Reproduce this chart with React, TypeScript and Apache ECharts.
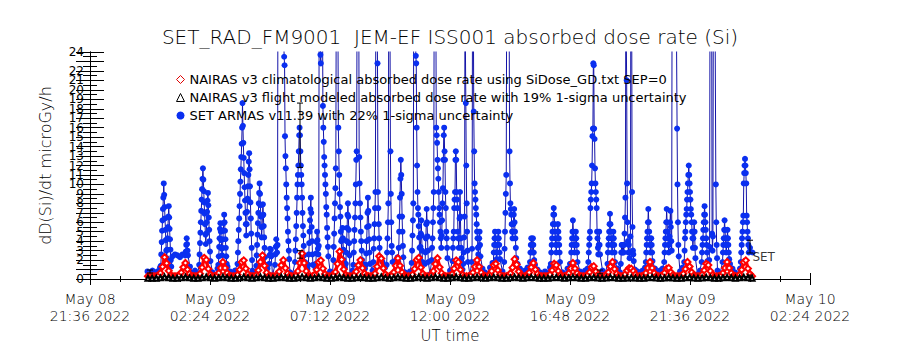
import React, { useEffect, useRef } from "react";
import * as echarts from "echarts";

// ---------- axis / labels ----------
const TITLE = "SET_RAD_FM9001  JEM-EF ISS001 absorbed dose rate (Si)";
const Y_NAME = "dD(Si)/dt microGy/h";
const X_NAME = "UT time";
const xTickLabels = [
  "May 08\n21:36 2022",
  "May 09\n02:24 2022",
  "May 09\n07:12 2022",
  "May 09\n12:00 2022",
  "May 09\n16:48 2022",
  "May 09\n21:36 2022",
  "May 10\n02:24 2022",
];
const X_MIN = 0; // minutes since May 08 21:36
const X_MAX = 1728;
const X_STEP = 288;
const DAY_OFFSET = 144; // May 09 00:00 in minutes since May 08 21:36
const Y_MIN = 0;
const Y_MAX = 24;

const legendNames = [
  "NAIRAS v3 climatological absorbed dose rate using SiDose_GD.txt SEP=0",
  "NAIRAS v3 flight modeled absorbed dose rate with 19% 1-sigma uncertainty",
  "SET ARMAS v11.39 with 22% 1-sigma uncertainty",
];

// ---------- NAIRAS climatological (minutes from May 09 00:00, 5-min cadence) ----------
const nairasClimStart = -5;
const nairasClimStep = 5;
const nairasClim = [
  0.3, 0.3, 0.3, 0.3, 0.3, 0.34, 0.64, 1.3, 2.3, 1.66,
  0.86, 0.4, 0.3, 0.3, 0.3, 0.37, 0.69, 1.25, 1.7, 1.0,
  0.54, 0.32, 0.3, 0.3, 0.3, 0.56, 1.22, 2.24, 2.02, 1.07,
  0.48, 0.3, 0.3, 0.32, 0.63, 1.17, 1.8, 1.17, 0.63, 0.32,
  0.3, 0.3, 0.3, 0.45, 0.97, 1.78, 1.97, 1.1, 0.53, 0.3,
  0.3, 0.3, 0.41, 0.92, 1.8, 2.5, 1.4, 0.67, 0.33, 0.3,
  0.3, 0.3, 0.39, 0.78, 1.46, 2.0, 1.15, 0.59, 0.32, 0.3,
  0.3, 0.35, 0.83, 1.69, 2.7, 1.69, 0.83, 0.35, 0.3, 0.3,
  0.45, 0.97, 1.78, 1.97, 1.1, 0.53, 0.3, 0.3, 0.3, 0.35,
  0.74, 1.6, 2.9, 2.07, 1.03, 0.43, 0.3, 0.3, 0.3, 0.39,
  0.78, 1.46, 2.0, 1.15, 0.59, 0.32, 0.3, 0.3, 0.3, 0.59,
  1.31, 2.41, 2.17, 1.14, 0.49, 0.3, 0.3, 0.34, 0.72, 1.4,
  2.2, 1.4, 0.72, 0.34, 0.3, 0.3, 0.3, 0.48, 1.07, 2.02,
  2.24, 1.22, 0.56, 0.3, 0.3, 0.3, 0.4, 0.83, 1.59, 2.2,
  1.25, 0.62, 0.33, 0.3, 0.3, 0.3, 0.53, 1.1, 1.97, 1.78,
  0.97, 0.45, 0.3, 0.3, 0.3, 0.33, 0.67, 1.29, 2.0, 1.29,
  0.67, 0.33, 0.3, 0.3, 0.42, 0.83, 1.47, 1.62, 0.93, 0.48,
  0.3, 0.3, 0.3, 0.32, 0.61, 1.2, 2.1, 1.52, 0.8, 0.39,
  0.3, 0.3, 0.37, 0.69, 1.25, 1.7, 1.0, 0.54, 0.32, 0.3,
  0.3, 0.3, 0.3, 0.48, 0.93, 1.62, 1.47, 0.83, 0.42, 0.3,
  0.3, 0.32, 0.61, 1.11, 1.7, 1.11, 0.61, 0.32, 0.3, 0.3,
  0.3, 0.4, 0.72, 1.24, 1.36, 0.8, 0.44, 0.3, 0.3, 0.3,
  0.38, 0.72, 1.32, 1.8, 1.05, 0.56, 0.32, 0.3, 0.3, 0.5,
  0.9, 1.15, 1.1, 0.85, 0.5, 0.3, 0.3, 0.3, 0.33, 0.63,
  1.17, 1.8, 1.17, 0.63, 0.33, 0.3, 0.3, 0.38, 0.65, 1.08,
  1.18, 0.72, 0.42, 0.3, 0.3, 0.3, 0.32, 0.56, 1.05, 1.8,
  1.32, 0.72, 0.38, 0.3, 0.3, 0.3, 0.48, 0.93, 1.62, 1.47,
  0.83, 0.42, 0.3, 0.3, 0.3, 0.32, 0.63, 1.17, 1.8, 1.17,
  0.63, 0.32, 0.3, 0.3, 0.45, 0.97, 1.78, 1.97, 1.1, 0.53,
  0.3,
];

// ---------- NAIRAS flight modeled (10-min cadence) ----------
const nairasFlightStart = -5;
const nairasFlightStep = 10;
const nairasFlight = [
  0.08, 0.08, 0.08, 0.12, 0.2, 0.13, 0.08, 0.08, 0.12, 0.18,
  0.12, 0.08, 0.08, 0.13, 0.2, 0.12, 0.08, 0.12, 0.18, 0.12,
  0.08, 0.08, 0.13, 0.2, 0.12, 0.08, 0.12, 0.21, 0.13, 0.08,
  0.08, 0.12, 0.19, 0.13, 0.08, 0.08, 0.13, 0.22, 0.13, 0.08,
  0.12, 0.2, 0.13, 0.08, 0.08, 0.13, 0.23, 0.13, 0.08, 0.08,
  0.12, 0.19, 0.12, 0.08, 0.08, 0.14, 0.22, 0.12, 0.08, 0.12,
  0.2, 0.12, 0.08, 0.08, 0.13, 0.21, 0.12, 0.08, 0.12, 0.2,
  0.13, 0.08, 0.08, 0.12, 0.2, 0.13, 0.08, 0.08, 0.12, 0.19,
  0.12, 0.08, 0.12, 0.18, 0.12, 0.08, 0.08, 0.12, 0.19, 0.13,
  0.08, 0.12, 0.17, 0.12, 0.08, 0.08, 0.08, 0.12, 0.17, 0.12,
  0.08, 0.12, 0.17, 0.12, 0.08, 0.08, 0.12, 0.16, 0.11, 0.08,
  0.11, 0.17, 0.12, 0.08, 0.08, 0.11, 0.14, 0.11, 0.08, 0.08,
  0.12, 0.17, 0.11, 0.08, 0.11, 0.15, 0.11, 0.08, 0.08, 0.12,
  0.17, 0.11, 0.08, 0.11, 0.17, 0.12, 0.08, 0.08, 0.12, 0.17,
  0.12, 0.08, 0.12, 0.19, 0.13, 0.08,
];

// ---------- SET ARMAS: quiet background (6-min cadence) ----------
const armasQuietStart = -6;
const armasQuietStep = 6;
const armasQuiet = [
  0.8, 0.6, 0.9, 0.5, 0.8, 1.2, 1.8, 2.3,
  1.6, 1.1, 2.4, 2.6, 2.5, 2.3, 2.6, 2.5,
  2.5, 1.3, 0.6, 0.9, 0.5, 1.3, 1.9, 2.2,
  1.9, 1.2, 0.7, 0.4, 1.1, 1.8, 2.2, 1.7,
  1.3, 0.8, 0.5, 0.9, 1.2, 1.9, 2.4, 1.7,
  1.0, 0.6, 0.9, 0.5, 1.4, 2.0, 2.5, 1.8,
  1.1, 0.8, 0.4, 0.9, 1.3, 1.9, 2.3, 1.6,
  1.2, 0.7, 0.5, 0.9, 1.4, 2.1, 2.6, 1.8,
  1.1, 0.6, 0.9, 1.3, 1.9, 2.4, 1.7, 1.0,
  0.5, 0.8, 0.6, 1.3, 2.0, 2.6, 1.9, 1.2,
  0.7, 0.4, 0.9, 1.2, 1.8, 2.3, 1.6, 1.1,
  0.8, 0.5, 0.9, 1.4, 2.0, 2.5, 1.8, 1.2,
  0.6, 0.9, 1.3, 1.9, 2.3, 1.7, 1.0, 0.7,
  0.4, 0.8, 1.3, 2.0, 2.4, 1.8, 1.1, 0.6,
  0.9, 0.5, 1.2, 1.9, 2.3, 1.6, 1.2, 0.8,
  0.5, 0.9, 1.3, 1.9, 2.2, 1.7, 1.0, 0.6,
  0.9, 0.4, 1.2, 1.8, 2.2, 1.6, 1.1, 0.7,
  0.5, 1.2, 1.7, 2.0, 1.5, 1.0, 0.8, 0.5,
  0.9, 1.2, 1.8, 2.1, 1.6, 1.1, 0.6, 0.9,
  1.2, 1.6, 1.9, 1.5, 1.0, 0.7, 0.4, 0.8,
  0.6, 1.2, 1.7, 2.0, 1.6, 1.0, 0.7, 0.5,
  1.1, 1.6, 1.9, 1.5, 1.0, 0.8, 0.5, 0.9,
  1.1, 1.5, 1.8, 1.4, 1.0, 0.6, 0.9, 0.5,
  1.2, 1.7, 2.0, 1.5, 1.1, 0.7, 0.4, 1.0,
  1.4, 1.6, 1.3, 1.0, 0.8, 0.5, 0.9, 1.2,
  1.7, 2.0, 1.6, 1.1, 0.6, 0.9, 1.1, 1.5,
  1.7, 1.4, 1.0, 0.7, 0.4, 0.8, 1.2, 1.7,
  2.0, 1.6, 1.1, 0.8, 0.5, 0.9, 1.2, 1.7,
  2.0, 1.5, 1.0, 0.6, 0.9, 0.5, 1.2, 1.7,
  2.0, 1.6, 1.1, 0.7, 0.4, 1.1, 1.8, 2.2,
  1.7, 3.3, 2.8,
];

// ---------- SET ARMAS: bursts [start minute, values at 1-min cadence] (values > 24 are off scale) ----------
const armasBurstStep = 1;
const armasBursts: [number, number[]][] = [
  [26, [1.4, 2.6, 3.9, 5.1, 6.2, 7.4, 8.6, 10.1, 8.9, 7.6, 6.4, 5.2, 4.1, 3.0, 2.2, 3.1, 4.3, 5.5, 6.6, 7.7, 6.5, 5.3, 4.2, 3.1, 2.0, 1.3]],
  [86, [2.9, 3.6, 4.3, 3.7, 3.0, 2.5]],
  [118, [1.5, 2.6, 3.8, 4.9, 6.0, 7.2, 8.4, 9.5, 10.6, 11.7, 10.5, 9.3, 8.1, 6.9, 5.8, 4.7, 3.7, 4.8, 6.0, 7.1, 8.3, 9.1, 7.8, 6.5, 5.2, 4.0, 2.9, 1.9]],
  [164, [1.5, 2.4, 3.4, 4.3, 5.3, 5.9, 5.0, 4.1, 3.2, 2.5, 3.3, 4.2, 5.1, 5.9, 6.8, 6.0, 5.1, 4.2, 3.3, 2.4, 1.6]],
  [210, [1.6, 2.8, 4.0, 5.2, 6.4, 7.7, 9.0, 10.3, 11.6, 12.9, 14.3, 16.0, 18.6, 16.2, 14.4, 12.8, 11.2, 9.7, 8.3, 7.0, 5.8, 4.6, 5.8, 7.1, 8.5, 9.8, 11.0, 12.4, 13.3, 11.6, 9.8, 8.1, 6.4, 4.8, 3.3, 2.0]],
  [255, [1.4, 2.5, 3.6, 4.7, 5.9, 7.0, 8.0, 9.1, 10.1, 9.0, 7.8, 6.6, 5.5, 4.4, 5.5, 6.7, 7.9, 6.8, 5.6, 4.4, 3.3, 2.3, 1.5]],
  [286, [1.6, 2.5, 3.2, 2.6, 3.1, 2.4]],
  [300, [1.5, 2.6, 3.4, 4.2, 3.5, 2.8, 3.6, 31, 34, 38, 42, 45, 47, 44, 40, 36, 33, 30, 28, 27, 26, 25, 23.5, 22.6, 15.1, 13.0, 11.7, 10.0, 8.6, 7.5, 6.4, 5.0, 4.0, 3.0, 2.1]],
  [348, [1.8, 3.0, 4.2, 5.6, 7.0, 8.6, 10.0, 11.0, 12.0, 13.5, 15.2, 16.0, 15.2, 13.5, 12.0, 11.0, 10.0, 8.6, 7.0, 5.6, 4.6, 3.5, 2.5, 1.6]],
  [380, [1.5, 2.6, 3.8, 5.0, 6.2, 7.4, 8.6, 7.0, 5.5, 4.0, 2.6, 1.5]],
  [398, [1.6, 2.7, 3.9, 5.0, 4.1, 3.2, 2.6, 3.5, 30, 34, 28, 23.7, 22.8, 30, 36, 32, 28, 18.3, 16.0, 14.5, 12.9, 12.0, 11.0, 10.0, 9.0, 7.6, 6.8, 5.4, 4.4, 3.4, 2.4]],
  [440, [2.0, 3.4, 4.8, 6.4, 8.0, 9.6, 11.7, 30, 36, 40, 34, 28, 16.0, 13.5, 11.0, 9.0, 7.6, 6.6, 5.0, 4.0, 3.0, 4.2, 5.4, 4.3, 3.1, 2.0]],
  [470, [1.6, 2.8, 4.0, 5.4, 6.8, 8.0, 6.6, 5.2, 3.8, 2.5]],
  [488, [1.5, 2.8, 4.0, 5.2, 6.5, 8.0, 10.0, 12.6, 13.5, 30, 35, 40, 35, 30, 12.9, 10.1, 8.0, 6.5, 5.0, 4.0, 3.0, 2.0]],
  [518, [1.5, 2.7, 4.0, 5.5, 7.0, 8.6, 7.2, 5.6, 4.2, 2.8, 1.6]],
  [536, [1.8, 3.2, 4.3, 5.8, 7.5, 9.2, 30, 36, 32, 28, 22.8, 9.2, 7.5, 5.8, 4.3, 3.3, 2.2]],
  [568, [1.5, 2.8, 4.3, 6.0, 8.0, 30, 35, 32, 27, 13.5, 9.0, 6.0, 3.5, 2.8, 1.8]],
  [596, [1.8, 3.3, 5.0, 6.6, 8.6, 10.6, 12.6, 11.0, 9.0, 6.6, 5.0, 3.5, 2.3]],
  [628, [1.7, 3.0, 4.6, 6.2, 8.0, 30, 35, 40, 36, 30, 23.6, 22.8, 16.0, 12.0, 9.2, 7.5, 6.8, 5.6, 4.4, 3.3, 2.2, 3.4, 4.8, 6.2, 4.6, 3.0, 1.8]],
  [660, [1.6, 2.8, 4.3, 5.8, 7.4, 6.0, 4.5, 3.0, 1.8]],
  [676, [2.0, 3.3, 4.3, 6.0, 7.5, 9.2, 30, 36, 40, 36, 30, 16.0, 15.2, 14.4, 12.6, 11.7, 10.6, 9.2, 7.5, 6.8, 6.0, 5.0, 4.3, 3.3, 4.6, 6.2, 8.0, 9.6, 12.6, 15.2, 16.0, 13.5, 12.6, 9.2, 7.5, 5.0, 4.3, 3.3, 2.2]],
  [726, [1.9, 3.3, 4.3, 5.0, 7.5, 8.4, 9.2, 12.6, 13.5, 12.6, 9.2, 8.4, 7.5, 5.0, 4.3, 3.3, 4.3, 6.4, 9.2, 6.6, 4.3, 3.3, 2.2]],
  [752, [1.6, 2.8, 4.4, 6.6, 30, 30, 18.6, 12.0, 8.0, 5.0, 3.0, 1.8]],
  [772, [1.8, 3.2, 30, 34, 30, 17.7, 13.5, 10.1, 9.2, 8.4, 7.5, 6.8, 5.8, 5.0, 4.3, 3.3, 2.6, 3.4, 4.3, 5.0, 3.6, 2.4]],
  [824, [1.6, 2.8, 3.6, 4.3, 5.0, 4.3, 3.6, 2.8, 2.1, 2.8, 3.6, 4.3, 5.0, 4.3, 3.6, 2.8, 2.1]],
  [850, [1.8, 3.2, 5.0, 7.0, 9.0, 11.0, 30, 34, 38, 40, 36, 32, 28, 13.5, 10.1, 8.0, 7.4, 6.8, 5.8, 5.0, 4.3, 5.0, 5.8, 6.8, 7.4, 6.0, 5.0, 4.3, 3.3, 2.2]],
  [912, [1.8, 2.8, 3.6, 4.3, 3.6, 2.8, 3.6, 4.3, 3.6, 2.8, 2.0]],
  [962, [1.6, 2.8, 3.6, 4.3, 5.0, 5.8, 6.8, 7.5, 6.8, 5.8, 5.0, 4.3, 3.6, 2.8, 3.6, 4.3, 5.0, 5.8, 5.0, 4.3, 3.6, 2.8, 1.8]],
  [1010, [1.6, 2.8, 3.6, 4.3, 5.0, 6.2, 5.0, 4.3, 3.6, 2.8, 3.6, 4.3, 5.0, 4.3, 3.6, 2.8, 1.8]],
  [1052, [1.8, 2.8, 3.6, 4.3, 5.0, 7.5, 8.4, 9.2, 10.1, 12.0, 15.1, 15.9, 22.8, 22.6, 15.9, 14.8, 11.7, 10.1, 9.2, 8.4, 7.5, 5.0, 4.3, 3.3, 2.6, 3.6, 5.0, 3.6, 2.6]],
  [1098, [1.6, 2.8, 3.6, 4.3, 5.0, 5.8, 6.9, 5.8, 5.0, 4.3, 3.6, 2.8, 3.6, 4.3, 5.0, 4.3, 3.6, 2.8, 1.8]],
  [1130, [1.6, 2.8, 3.6, 2.8, 3.6, 2.8, 3.6, 2.8, 3.6, 4.8, 6.5, 8.6, 30, 30, 21.0, 10.1, 6.0, 4.0, 2.8, 3.6, 2.8, 2.2, 2.8, 4.5, 30, 30, 30, 9.2, 5.5, 3.0, 2.6, 1.9]],
  [1190, [1.8, 2.8, 3.6, 4.3, 5.0, 6.0, 7.4, 6.0, 5.0, 4.3, 3.6, 2.8, 3.6, 4.3, 3.6, 2.8, 1.9]],
  [1234, [1.8, 2.8, 3.6, 4.3, 5.0, 6.0, 7.4, 6.0, 5.0, 4.3, 3.6, 2.8, 3.6, 4.5, 6.0, 7.2, 5.5, 4.0, 3.0, 30, 30, 30, 30, 30, 30, 30, 30, 30, 30, 30, 30, 15.9, 10.0, 6.0, 3.6, 2.4]],
  [1282, [1.8, 3.0, 4.3, 5.0, 6.0, 6.8, 7.4, 8.4, 9.2, 10.1, 11.0, 12.0, 11.0, 10.1, 9.2, 8.4, 7.4, 6.8, 6.0, 5.0, 4.3, 3.3, 4.3, 5.0, 6.0, 5.0, 3.3, 2.2]],
  [1324, [1.8, 2.8, 3.6, 4.3, 5.2, 6.0, 6.8, 7.7, 6.8, 6.0, 5.2, 4.3, 3.6, 2.8, 1.9]],
  [1342, [2.0, 3.4, 30, 30, 30, 30, 30, 4.8, 3.0, 4.5, 30, 30, 30, 30, 30, 30, 10.0, 6.0, 3.6, 2.2]],
  [1374, [1.8, 2.8, 3.6, 4.3, 5.2, 6.2, 5.2, 4.3, 3.6, 2.8, 3.6, 4.3, 5.2, 4.3, 3.6, 2.8, 2.1, 1.5]],
  [1418, [1.8, 2.8, 3.6, 4.3, 5.0, 6.0, 6.7, 10.1, 11.2, 12.0, 12.7, 12.0, 11.2, 10.1, 6.7, 6.0, 5.0, 4.3, 3.6, 2.8]],
];

// ---------- error bars [minute, low, high] ----------
const errorBars: [number, number, number][] = [
  [0, 0.63, 0.95],
  [360, 11.8, 18.6],
  [360, 2.2, 3.0],
  [720, 0.2, 0.42],
  [1080, 0.55, 0.95],
  [1440, 2.75, 4.1],
  [1440, 0.2, 0.4],
];
const setLabel = { text: "SET", minute: 1441, value: 2.3 };

// ---------- build series data ----------
function seriesFromCadence(start: number, step: number, vals: number[]) {
  return vals.map((v, i) => [start + i * step + DAY_OFFSET, v]);
}

function buildArmas() {
  const windows = armasBursts.map(([s, v]) => [s, s + (v.length - 1) * armasBurstStep]);
  const pts: [number, number][] = [];
  armasQuiet.forEach((v, i) => {
    const t = armasQuietStart + i * armasQuietStep;
    if (!windows.some(([a, b]) => t >= a - 0.5 && t <= b + 0.5)) pts.push([t, v]);
  });
  armasBursts.forEach(([s, vals]) => vals.forEach((v, i) => pts.push([s + i * armasBurstStep, v])));
  pts.sort((a, b) => a[0] - b[0]);
  return pts.map(([t, v]) => [t + DAY_OFFSET, v]);
}

const FONT = "DejaVu Sans";
const THIN = 200;

export default function App() {
  const ref = useRef<HTMLDivElement>(null);
  useEffect(() => {
    if (!ref.current) return;
    const chart = echarts.init(ref.current, undefined, { renderer: "svg" });

    const axisCommon = {
      axisLine: { show: true, lineStyle: { color: "#000", width: 1 } },
      splitLine: { show: false },
    };

    const option: any = {
      animation: false,
      backgroundColor: "#ffffff",
      title: {
        text: TITLE,
        left: "center",
        top: 27,
        padding: 0,
        textStyle: { fontFamily: FONT, fontSize: 20, fontWeight: THIN, color: "#000" },
      },
      legend: {
        orient: "vertical",
        left: 176,
        top: 73,
        padding: 0,
        itemGap: 5,
        itemWidth: 8,
        itemHeight: 8,
        textStyle: { fontFamily: FONT, fontSize: 13, color: "#000" },
        data: [
          { name: legendNames[0], icon: "diamond", itemStyle: { color: "#fff", borderColor: "#e00000", borderWidth: 1 } },
          { name: legendNames[1], icon: "triangle", itemStyle: { color: "#fff", borderColor: "#000", borderWidth: 1 } },
          { name: legendNames[2], icon: "circle", itemStyle: { color: "#0a2ff0" } },
        ],
      },
      grid: { left: 90, right: 90, top: 52, bottom: 71 },
      xAxis: [
        {
          type: "value",
          min: X_MIN,
          max: X_MAX,
          interval: X_STEP,
          position: "bottom",
          name: X_NAME,
          nameLocation: "middle",
          nameGap: 45,
          nameTextStyle: { fontFamily: FONT, fontSize: 15, fontWeight: THIN, color: "#000" },
          ...axisCommon,
          axisTick: { show: true, inside: true, length: 6, lineStyle: { color: "#000" } },
          minorTick: { show: true, splitNumber: 4, length: 3, lineStyle: { color: "#000" } },
          axisLabel: {
            showMinLabel: true,
            showMaxLabel: true,
            fontFamily: FONT,
            fontSize: 14,
            fontWeight: THIN,
            lineHeight: 17,
            color: "#000",
            margin: 11,
            formatter: (v: number) => xTickLabels[Math.round((v - X_MIN) / X_STEP)] ?? "",
          },
        },
        {
          type: "value",
          min: X_MIN,
          max: X_MAX,
          interval: X_STEP,
          position: "top",
          ...axisCommon,
          axisTick: { show: true, inside: true, length: 6, lineStyle: { color: "#000" } },
          minorTick: { show: true, splitNumber: 4, length: 3, lineStyle: { color: "#000" } },
          axisLabel: { show: false },
        },
      ],
      yAxis: [
        {
          type: "value",
          min: Y_MIN,
          max: Y_MAX,
          interval: 1,
          position: "left",
          name: Y_NAME,
          nameLocation: "middle",
          nameRotate: 90,
          nameGap: 37,
          nameTextStyle: { fontFamily: FONT, fontSize: 16, fontWeight: THIN, color: "#000" },
          ...axisCommon,
          axisTick: { show: true, inside: true, length: 14, lineStyle: { color: "#000" } },
          minorTick: { show: true, splitNumber: 2, length: 7, lineStyle: { color: "#000" } },
          axisLabel: { fontFamily: FONT, fontSize: 12, color: "#000", margin: 6, showMinLabel: true, showMaxLabel: true },
        },
        {
          type: "value",
          min: Y_MIN,
          max: Y_MAX,
          interval: 1,
          position: "right",
          ...axisCommon,
          axisTick: { show: true, inside: true, length: 14, lineStyle: { color: "#000" } },
          minorTick: { show: true, splitNumber: 2, length: 7, lineStyle: { color: "#000" } },
          axisLabel: { show: false },
        },
      ],
      series: [
        {
          name: legendNames[2],
          type: "line",
          data: buildArmas(),
          symbol: "circle",
          symbolSize: 6,
          itemStyle: { color: "#0a2ff0" },
          lineStyle: { color: "#1414a8", width: 1 },
          clip: true,
          z: 2,
        },
        {
          name: legendNames[0],
          type: "line",
          data: seriesFromCadence(nairasClimStart, nairasClimStep, nairasClim),
          symbol: "emptyDiamond",
          symbolSize: 6,
          itemStyle: { color: "#ff0000", borderWidth: 1 },
          lineStyle: { color: "#ff0000", width: 3.5 },
          clip: true,
          z: 3,
        },
        {
          name: legendNames[1],
          type: "line",
          data: seriesFromCadence(nairasFlightStart, nairasFlightStep, nairasFlight),
          symbol: "emptyTriangle",
          symbolSize: 5,
          itemStyle: { color: "#000", borderWidth: 1 },
          lineStyle: { color: "#000", width: 3 },
          clip: true,
          z: 4,
        },
        {
          type: "custom",
          name: "errors",
          data: errorBars.map(([t, lo, hi]) => [t + DAY_OFFSET, lo, hi]),
          encode: { x: 0, y: [1, 2] },
          z: 5,
          renderItem: (_p: any, api: any) => {
            const x = api.value(0);
            const a = api.coord([x, api.value(1)]);
            const b = api.coord([x, api.value(2)]);
            const w = 3;
            const st = { stroke: "#000", lineWidth: 1 };
            return {
              type: "group",
              children: [
                { type: "line", shape: { x1: a[0], y1: a[1], x2: b[0], y2: b[1] }, style: st },
                { type: "line", shape: { x1: a[0] - w, y1: a[1], x2: a[0] + w, y2: a[1] }, style: st },
                { type: "line", shape: { x1: b[0] - w, y1: b[1], x2: b[0] + w, y2: b[1] }, style: st },
              ],
            };
          },
        },
        {
          type: "scatter",
          name: "setlabel",
          data: [[setLabel.minute + DAY_OFFSET, setLabel.value]],
          symbolSize: 0,
          z: 6,
          label: {
            show: true,
            position: "right",
            distance: 2,
            formatter: setLabel.text,
            fontFamily: FONT,
            fontSize: 12,
            color: "#000",
          },
        },
      ],
    };
    chart.setOption(option);
    return () => chart.dispose();
  }, []);

  return (
    <div
      ref={ref}
      style={{ position: "fixed", left: 0, top: 0, width: 900, height: 350, background: "#fff" }}
    />
  );
}
